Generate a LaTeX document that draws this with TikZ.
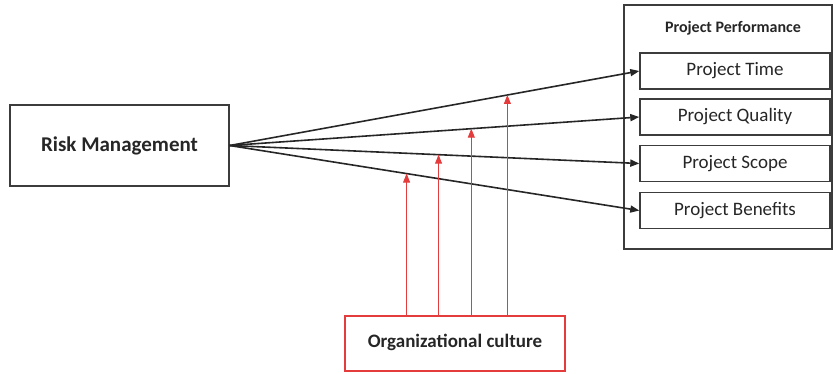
\documentclass[tikz,border=0pt]{standalone}
\usepackage{fontspec}
\setmainfont{Carlito}
\usetikzlibrary{arrows.meta}
\definecolor{boxgray}{RGB}{60,60,60}
\definecolor{redline}{RGB}{228,60,60}
\tikzset{
  box/.style={draw=boxgray, line width=1.4pt, inner sep=0pt, align=center, text=black!85},
  perf/.style={box, minimum width=190pt, minimum height=36pt, font=\fontsize{19}{22}\selectfont},
  link/.style={line width=1.6pt, black!85, -{Triangle[length=9pt,width=7pt]}},
  moder/.style={line width=0.9pt, redline, -{Triangle[length=9pt,width=7pt]}}
}
\begin{document}
\begin{tikzpicture}[x=1pt,y=-1pt]
\useasboundingbox (0,0) rectangle (833,373);
% outer performance box
\node[box, minimum width=208pt, minimum height=244pt] (outer) at (728,127) {};
\node[font=\bfseries\fontsize{16}{19}\selectfont, text=black!85] (title) at (733,28) {Project Performance};
% inner boxes
\node[perf] (pt) at (735,71) {Project Time};
\node[perf] (pq) at (735,117) {Project Quality};
\node[perf] (ps) at (735,163.5) {Project Scope};
\node[perf] (pb) at (735,210.5) {Project Benefits};
% risk management
\node[box, line width=1.2pt, minimum width=219pt, minimum height=81pt, font=\bfseries\fontsize{21}{24}\selectfont] (rm) at (119.5,145.5) {Risk Management};
% organizational culture
\node[box, draw=redline, line width=1.2pt, minimum width=220pt, minimum height=55pt, font=\bfseries\fontsize{19}{22}\selectfont] (oc) at (455,343.5) {\raisebox{5pt}{Organizational culture}};
% links
\draw[link] (rm.east) -- (pt.west) coordinate[pos=0.678] (mt);
\draw[link] (rm.east) -- (pq.west) coordinate[pos=0.59] (mq);
\draw[link] (rm.east) -- (ps.west) coordinate[pos=0.51] (ms);
\draw[link] (rm.east) -- (pb.west) coordinate[pos=0.432] (mb);
% moderating arrows
\draw[moder] (mb |- oc.north) -- (mb);
\draw[moder] (ms |- oc.north) -- (ms);
\draw[moder] (mq |- oc.north) -- (mq);
\draw[moder] (mt |- oc.north) -- (mt);
\end{tikzpicture}
\end{document}
